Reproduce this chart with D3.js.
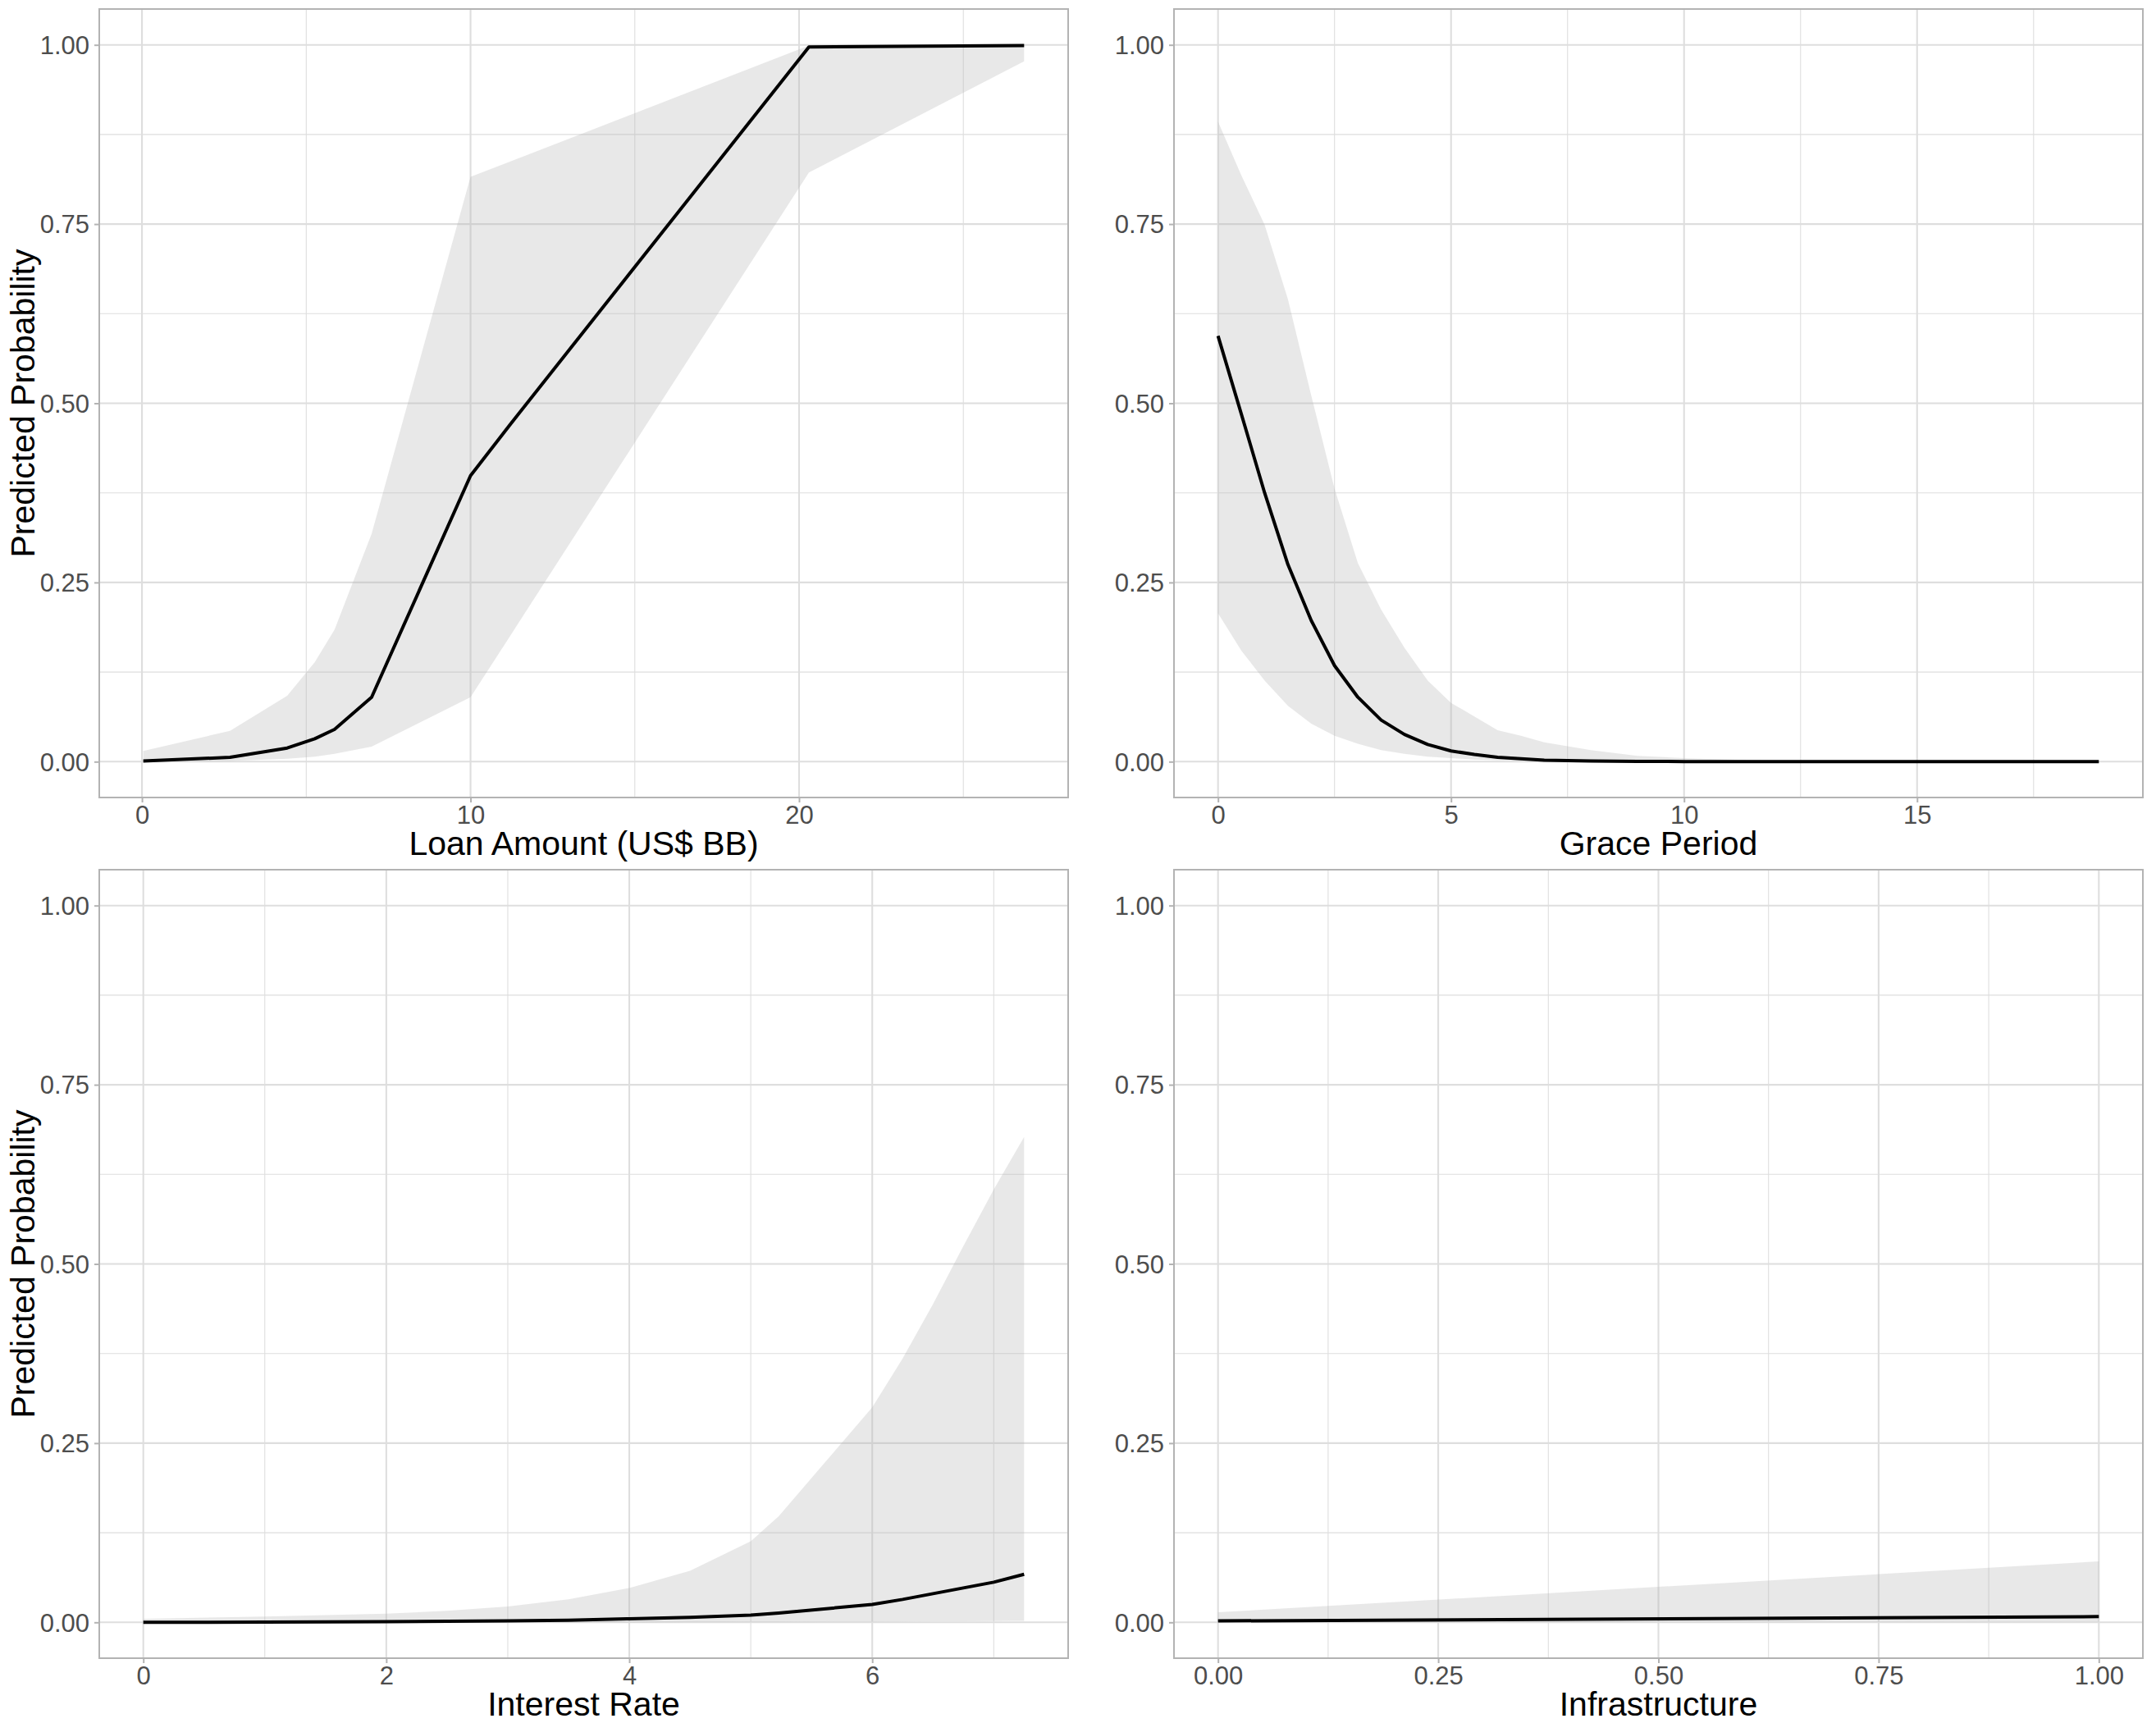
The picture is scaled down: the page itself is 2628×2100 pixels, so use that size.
<!DOCTYPE html>
<html>
<head>
<meta charset="utf-8">
<script src="https://cdn.jsdelivr.net/npm/d3@7"></script>
<style>
  html, body { margin: 0; padding: 0; background: #ffffff; }
  svg { display: block; }
  text { font-family: "Liberation Sans", Arial, Helvetica, sans-serif; }
</style>
</head>
<body>
<svg id="chart" width="2628" height="2100"></svg>
<script>
// ---------------- DATA ----------------
// Panel 1: Loan Amount (US$ BB)
const loanX     = [0.04, 2.68, 4.42, 5.26, 5.86, 6.99, 10.0, 11.2, 20.3, 26.85];
const loanFit   = [0.001, 0.006, 0.019, 0.032, 0.045, 0.090, 0.399, 0.470, 0.997, 0.999];
const loanLower = [0.000, 0.001, 0.004, 0.007, 0.011, 0.021, 0.090, 0.175, 0.822, 0.977];
const loanUpper = [0.015, 0.043, 0.092, 0.139, 0.184, 0.318, 0.816, 0.837, 0.999, 1.000];
const loanTicks = [0, 10, 20];
const loanMinor = [5, 15, 25];

// Panel 2: Grace Period
const graceX     = [0, 0.5, 1, 1.5, 2, 2.5, 3, 3.5, 4, 4.5, 5, 5.5, 6, 6.5, 7, 8, 9, 10, 12, 15, 18.9];
const graceFit   = [0.594, 0.485, 0.375, 0.275, 0.197, 0.134, 0.090, 0.058, 0.038, 0.024, 0.015, 0.010, 0.006, 0.004, 0.002, 0.001, 0.0005, 0.0002, 0.0001, 0, 0];
const graceLower = [0.207, 0.155, 0.113, 0.078, 0.053, 0.036, 0.025, 0.016, 0.011, 0.007, 0.005, 0.003, 0.002, 0.0015, 0.001, 0.0005, 0.0002, 0.0001, 0, 0, 0];
const graceUpper = [0.893, 0.818, 0.749, 0.645, 0.511, 0.381, 0.277, 0.212, 0.159, 0.113, 0.082, 0.063, 0.044, 0.036, 0.027, 0.016, 0.008, 0.005, 0.001, 0, 0];
const graceTicks = [0, 5, 10, 15];
const graceMinor = [2.5, 7.5, 12.5, 17.5];

// Panel 3: Interest Rate
const rateX     = [0, 1, 2, 2.5, 3, 3.5, 4, 4.5, 5, 5.23, 6, 6.25, 6.5, 6.75, 7, 7.25];
const rateFit   = [0.000, 0.0003, 0.001, 0.0015, 0.002, 0.003, 0.005, 0.007, 0.010, 0.013, 0.025, 0.032, 0.040, 0.048, 0.056, 0.067];
const rateLower = [0.000, 0.000, 0.000, 0.000, 0.000, 0.000, 0.0002, 0.0004, 0.0006, 0.0007, 0.001, 0.0012, 0.0014, 0.0016, 0.0018, 0.002];
const rateUpper = [0.005, 0.008, 0.012, 0.016, 0.022, 0.032, 0.048, 0.072, 0.113, 0.148, 0.300, 0.368, 0.444, 0.525, 0.604, 0.677];
const rateTicks = [0, 2, 4, 6];
const rateMinor = [1, 3, 5, 7];

// Panel 4: Infrastructure
const infraX     = [0, 1];
const infraFit   = [0.002, 0.008];
const infraLower = [0.000, 0.001];
const infraUpper = [0.014, 0.085];
const infraTicks = [0, 0.25, 0.5, 0.75, 1];
const infraMinor = [0.125, 0.375, 0.625, 0.875];

// Shared y axis
const yTicks = [0, 0.25, 0.5, 0.75, 1];
const yMinor = [0.125, 0.375, 0.625, 0.875];
const yTitle = "Predicted Probability";

// ---------------- LAYOUT / STYLE ----------------
const svg = d3.select("#chart");
const panelW = 1181, panelH = 961;
const colLeft = [121, 1431];
const rowTop = [11, 1060];

const panels = [
  { x: loanX,  fit: loanFit,  lo: loanLower,  hi: loanUpper,  ticks: loanTicks,  minor: loanMinor,  fmt: d3.format("d"),   title: "Loan Amount (US$ BB)", col: 0, row: 0 },
  { x: graceX, fit: graceFit, lo: graceLower, hi: graceUpper, ticks: graceTicks, minor: graceMinor, fmt: d3.format("d"),   title: "Grace Period",         col: 1, row: 0 },
  { x: rateX,  fit: rateFit,  lo: rateLower,  hi: rateUpper,  ticks: rateTicks,  minor: rateMinor,  fmt: d3.format("d"),   title: "Interest Rate",        col: 0, row: 1 },
  { x: infraX, fit: infraFit, lo: infraLower, hi: infraUpper, ticks: infraTicks, minor: infraMinor, fmt: d3.format(".2f"), title: "Infrastructure",       col: 1, row: 1 }
];

const gridCol = "#dedede";
const borderCol = "#b3b3b3";
const tickTextCol = "#4d4d4d";

panels.forEach(p => {
  const L = colLeft[p.col], T = rowTop[p.row];
  const g = svg.append("g").attr("transform", `translate(${L},${T})`);

  const xmin = d3.min(p.x), xmax = d3.max(p.x);
  const pad = (xmax - xmin) * 0.05;
  const x = d3.scaleLinear().domain([xmin - pad, xmax + pad]).range([0, panelW]);
  const y = d3.scaleLinear().domain([-0.05, 1.05]).range([panelH, 0]);

  // minor grid
  g.append("g").selectAll("line").data(p.minor.filter(v => x(v) > 0 && x(v) < panelW)).join("line")
    .attr("x1", d => x(d)).attr("x2", d => x(d)).attr("y1", 0).attr("y2", panelH)
    .attr("stroke", gridCol).attr("stroke-width", 1.1);
  g.append("g").selectAll("line").data(yMinor).join("line")
    .attr("x1", 0).attr("x2", panelW).attr("y1", d => y(d)).attr("y2", d => y(d))
    .attr("stroke", gridCol).attr("stroke-width", 1.1);
  // major grid
  g.append("g").selectAll("line").data(p.ticks).join("line")
    .attr("x1", d => x(d)).attr("x2", d => x(d)).attr("y1", 0).attr("y2", panelH)
    .attr("stroke", gridCol).attr("stroke-width", 2.1);
  g.append("g").selectAll("line").data(yTicks).join("line")
    .attr("x1", 0).attr("x2", panelW).attr("y1", d => y(d)).attr("y2", d => y(d))
    .attr("stroke", gridCol).attr("stroke-width", 2.1);

  const pts = p.x.map((v, i) => ({ x: v, fit: p.fit[i], lo: p.lo[i], hi: p.hi[i] }));

  // ribbon
  g.append("path").datum(pts)
    .attr("d", d3.area().x(d => x(d.x)).y0(d => y(d.lo)).y1(d => y(d.hi)))
    .attr("fill", "#b3b3b3").attr("fill-opacity", 0.3).attr("stroke", "none");

  // fitted line
  g.append("path").datum(pts)
    .attr("d", d3.line().x(d => x(d.x)).y(d => y(d.fit)))
    .attr("fill", "none").attr("stroke", "#000").attr("stroke-width", 4)
    .attr("stroke-linejoin", "round");

  // panel border
  g.append("rect").attr("x", 0).attr("y", 0).attr("width", panelW).attr("height", panelH)
    .attr("fill", "none").attr("stroke", borderCol).attr("stroke-width", 2);

  // x axis
  const xAxis = d3.axisBottom(x).tickValues(p.ticks).tickFormat(p.fmt).tickSize(6).tickPadding(9);
  const xa = g.append("g").attr("transform", `translate(0,${panelH})`).call(xAxis);
  xa.select(".domain").remove();
  xa.selectAll(".tick line").attr("stroke", borderCol).attr("stroke-width", 2);
  xa.selectAll(".tick text").attr("fill", tickTextCol).attr("font-size", 31)
    .attr("font-family", "Liberation Sans, Arial, sans-serif").attr("dy", null).attr("y", 32);

  // y axis
  const yAxis = d3.axisLeft(y).tickValues(yTicks).tickFormat(d3.format(".2f")).tickSize(6).tickPadding(6);
  const ya = g.append("g").call(yAxis);
  ya.select(".domain").remove();
  ya.selectAll(".tick line").attr("stroke", borderCol).attr("stroke-width", 2);
  ya.selectAll(".tick text").attr("fill", tickTextCol).attr("font-size", 31)
    .attr("font-family", "Liberation Sans, Arial, sans-serif").attr("x", -12).attr("dy", "0.35em");

  // x title
  g.append("text").attr("x", panelW / 2).attr("y", panelH + 70)
    .attr("text-anchor", "middle").attr("font-size", 41).attr("fill", "#000")
    .text(p.title);

  // y title (left column only)
  if (p.col === 0) {
    svg.append("text")
      .attr("transform", `translate(${42},${T + panelH / 2}) rotate(-90)`)
      .attr("text-anchor", "middle").attr("font-size", 41).attr("fill", "#000")
      .text(yTitle);
  }
});
</script>
</body>
</html>
